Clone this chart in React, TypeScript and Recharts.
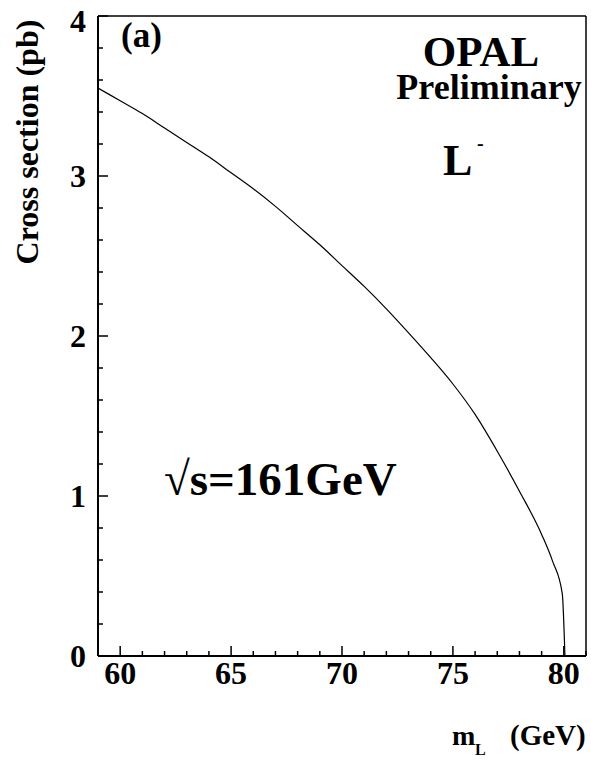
import React from 'react';
import { LineChart, Line, XAxis, YAxis, ReferenceLine } from 'recharts';

// slepton mass (GeV) and cross section (pb)
const massValues = [59, 60, 61, 62, 63, 64, 65, 66, 67, 68, 69, 70, 71, 72, 73, 74, 75, 76, 77, 78, 79, 79.5, 79.93, 80.05];
const crossSection = [3.55, 3.47, 3.39, 3.3, 3.21, 3.12, 3.02, 2.92, 2.81, 2.69, 2.57, 2.44, 2.31, 2.17, 2.02, 1.865, 1.7, 1.51, 1.28, 1.03, 0.76, 0.59, 0.39, 0.0];

const xTicks = [59, 60, 61, 62, 63, 64, 65, 66, 67, 68, 69, 70, 71, 72, 73, 74, 75, 76, 77, 78, 79, 80, 81];
const xLabels = [60, 65, 70, 75, 80];
const yTicks = [0, 0.2, 0.4, 0.6, 0.8, 1, 1.2, 1.4, 1.6, 1.8, 2, 2.2, 2.4, 2.6, 2.8, 3, 3.2, 3.4, 3.6, 3.8, 4];
const yLabels = [0, 1, 2, 3, 4];

const data = massValues.map((m, i) => ({ m, xs: crossSection[i] }));

const FONT = '"Liberation Serif", "Times New Roman", serif';

const isLabel = (v: number, list: number[]) => list.some(l => Math.abs(l - v) < 1e-6);

const XTick = (props: any) => {
  const { x, y, payload } = props;
  const major = isLabel(payload.value, xLabels);
  return (
    <g>
      <line x1={x} y1={y} x2={x} y2={y - (major ? 10 : 5)} stroke="#000" strokeWidth={1.5} />
      {major && (
        <text x={x} y={y + 28} textAnchor="middle" fontFamily={FONT} fontWeight="bold" fontSize={32} fill="#000">
          {payload.value}
        </text>
      )}
    </g>
  );
};

const YTick = (props: any) => {
  const { x, y, payload } = props;
  const major = isLabel(payload.value, yLabels);
  // the top label sits a little lower so it stays inside the page
  const shift = payload.value >= 4 ? 5 : 0;
  return (
    <g>
      <line x1={x} y1={y} x2={x + (major ? 10 : 5)} y2={y} stroke="#000" strokeWidth={1.5} />
      {major && (
        <text x={x - 12} y={y + shift} dy="0.34em" textAnchor="end" fontFamily={FONT} fontWeight="bold" fontSize={32} fill="#000">
          {Math.round(payload.value)}
        </text>
      )}
    </g>
  );
};

const txt = { fontFamily: FONT, fontWeight: 'bold' as const, fill: '#000' };

export default function App() {
  return (
    <div style={{ position: 'absolute', left: 0, top: 0, width: 591, height: 762, background: '#fff' }}>
      <LineChart width={591} height={762} data={data} margin={{ top: 16, right: 5, bottom: 0, left: 0 }}>
        <XAxis
          dataKey="m"
          type="number"
          domain={[59, 81]}
          ticks={xTicks}
          interval={0}
          allowDataOverflow
          height={106}
          tickLine={false}
          tickSize={0}
          tickMargin={0}
          tick={<XTick />}
          axisLine={{ stroke: '#000', strokeWidth: 2 }}
        />
        <YAxis
          type="number"
          domain={[0, 4]}
          ticks={yTicks}
          interval={0}
          allowDataOverflow
          width={98}
          tickLine={false}
          tickSize={0}
          tickMargin={0}
          tick={<YTick />}
          axisLine={{ stroke: '#000', strokeWidth: 2 }}
        />
        <ReferenceLine y={4} stroke="#000" strokeWidth={1.5} />
        <ReferenceLine x={81} stroke="#000" strokeWidth={1.5} />
        <Line type="monotone" dataKey="xs" stroke="#000" strokeWidth={1.2} dot={false} isAnimationActive={false} />
      </LineChart>
      <svg width={591} height={762} style={{ position: 'absolute', left: 0, top: 0, pointerEvents: 'none' }}>
        <text {...txt} x={121} y={47} fontSize={35}>(a)</text>
        <text {...txt} x={481} y={66} fontSize={43} textAnchor="middle">OPAL</text>
        <text {...txt} x={489} y={99} fontSize={36} textAnchor="middle">Preliminary</text>
        <text {...txt} x={443} y={175} fontSize={44}>L</text>
        <text {...txt} x={477} y={150} fontSize={20}>-</text>
        <text {...txt} x={164} y={495} fontSize={47}>√s=161GeV</text>
        <text {...txt} x={452} y={745} fontSize={28}>m</text>
        <text {...txt} x={475} y={755} fontSize={16}>L</text>
        <text {...txt} x={510} y={745} fontSize={29}>(GeV)</text>
        <text {...txt} fontSize={32} textAnchor="middle" transform="translate(38,142) rotate(-90)">
          Cross section (pb)
        </text>
      </svg>
    </div>
  );
}
